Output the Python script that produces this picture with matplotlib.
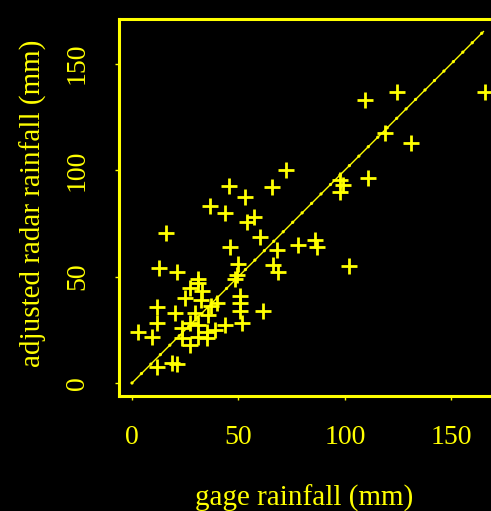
import matplotlib
matplotlib.use("Agg")
import matplotlib.pyplot as plt

# gage vs adjusted radar rainfall (mm)
gage = [72.3, 45.5, 65.7, 53.0, 36.6, 43.7, 57.3, 54.0, 16.0, 60.0,
        68.0, 78.0, 46.0, 12.7, 21.0, 50.0, 66.0, 68.5, 48.4, 31.0,
        27.0, 11.7, 50.7, 50.7, 50.7, 51.6, 61.5, 40.0, 43.7, 11.7,
        2.8, 9.4, 19.0, 11.7, 21.0, 109.4, 124.4, 165.7, 118.8, 131.0,
        97.7, 97.7, 99.0, 110.8, 86.0, 86.9, 102.0, 31.0, 24.9, 32.4,
        20.0, 29.6, 35.7, 23.5, 27.0, 31.0, 35.0, 39.0, 23.5, 27.0,
        31.0, 35.0, 33.0, 37.0, 49.5]
radar = [100.0, 92.5, 92.0, 87.5, 83.0, 80.0, 78.0, 75.6, 70.4, 68.5,
         62.4, 64.8, 64.0, 54.0, 52.0, 56.0, 55.4, 52.0, 49.0, 49.0,
         44.6, 35.7, 41.0, 37.5, 34.0, 28.0, 34.0, 37.5, 27.0, 28.0,
         24.0, 21.6, 9.4, 7.5, 9.0, 132.9, 136.6, 136.6, 117.4, 112.7,
         95.3, 89.7, 93.0, 96.2, 67.0, 64.0, 55.0, 47.0, 40.0, 39.0,
         33.0, 33.0, 32.0, 26.0, 28.0, 27.0, 24.0, 25.0, 21.0, 17.8,
         21.6, 21.0, 43.0, 36.0, 50.5]
one_to_one = [0, 165]
ticks = [0, 50, 100, 150]

yellow = '#FFFF00'
plt.rcParams['font.family'] = ['Liberation Serif', 'DejaVu Serif']

fig = plt.figure(figsize=(4.91, 5.11), dpi=100, facecolor='black')
ax = fig.add_axes([119 / 491, 115 / 511, 377 / 491, 377 / 511], facecolor='black')

ax.plot(gage, radar, linestyle='none', marker='+', markersize=12,
        markeredgewidth=2.0, color=yellow)
ax.plot(one_to_one, one_to_one, color=yellow, lw=1.0)
ax.plot(one_to_one, one_to_one, color=yellow, lw=2.4,
        ls=(0, (0.01, 4)), dash_capstyle='round')

ax.set_xlim(-6.1, 170.9)
ax.set_ylim(-6.1, 170.9)
ax.set_xticks(ticks)
ax.set_yticks(ticks)
ax.set_yticklabels([str(t) for t in ticks], rotation=90, va='center')

# the right side of the box falls outside the picture
for side in ['left', 'bottom', 'top']:
    ax.spines[side].set_color(yellow)
    ax.spines[side].set_linewidth(2.2)
ax.spines['right'].set_visible(False)

ax.tick_params(colors=yellow, labelsize=20, length=3, width=1, pad=18)

ax.set_xlabel('gage rainfall (mm)', color=yellow, fontsize=21)
ax.set_ylabel('adjusted radar rainfall (mm)', color=yellow, fontsize=21)
ax.xaxis.set_label_coords(0.49, -0.236)
ax.yaxis.set_label_coords(-0.191, 0.51)

fig.savefig('out.png', dpi=100, facecolor='black')
